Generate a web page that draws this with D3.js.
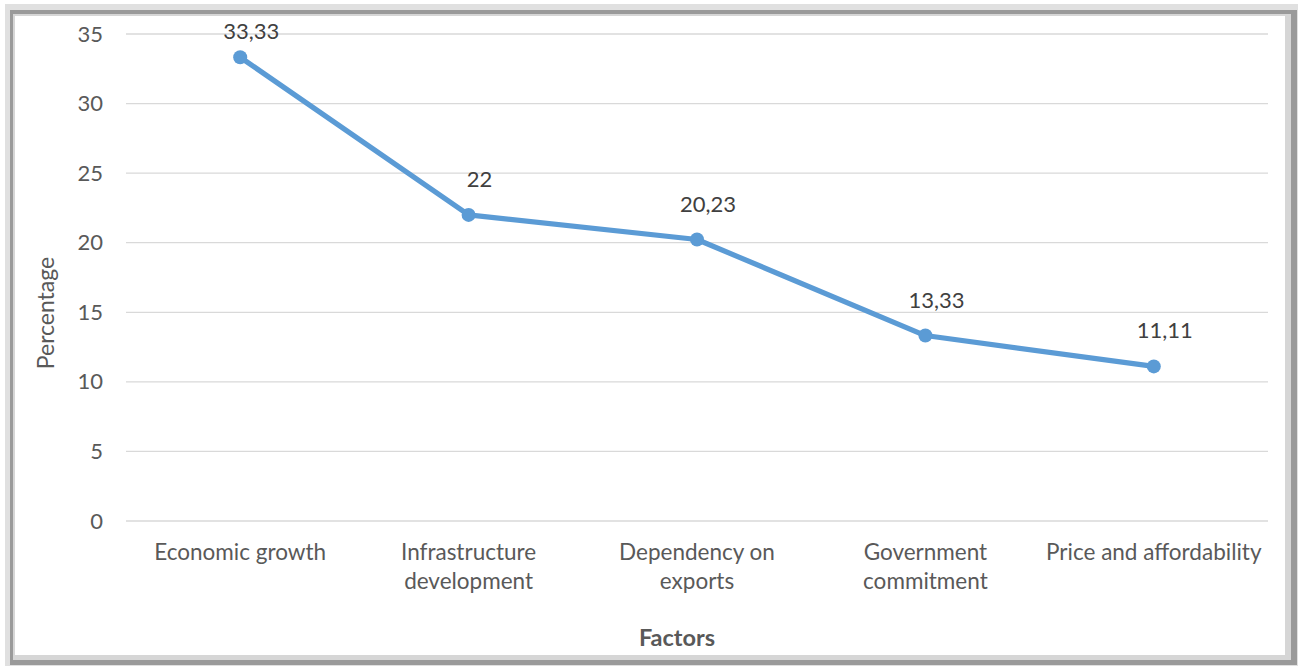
<!DOCTYPE html>
<html>
<head>
<meta charset="utf-8">
<script src="https://cdn.jsdelivr.net/npm/d3@7"></script>
<style>
  html, body { margin: 0; padding: 0; background: #fff; }
  svg { display: block; }
  text { font-family: Lato, "Open Sans", sans-serif; }
</style>
</head>
<body>
<svg id="chart" width="1303" height="666"></svg>
<script>
// Factors and their share (%)
const factors = [
  ["Economic growth"],
  ["Infrastructure", "development"],
  ["Dependency on", "exports"],
  ["Government", "commitment"],
  ["Price and affordability"]
];
const factorKeys = factors.map(f => f.join(" "));
const percentages = [33.33, 22, 20.23, 13.33, 11.11];
const valueLabels = ["33,33", "22", "20,23", "13,33", "11,11"];
const yTicks = [0, 5, 10, 15, 20, 25, 30, 35];

const svg = d3.select("#chart");

// beveled frame
svg.append("rect").attr("x", 5).attr("y", 4).attr("width", 1293).attr("height", 662).attr("fill", "#e0e0e0");
svg.append("rect").attr("x", 10).attr("y", 10).attr("width", 1287).attr("height", 655).attr("fill", "#9a9a9a");
svg.append("rect").attr("x", 13).attr("y", 14).attr("width", 1278).attr("height", 646).attr("fill", "#d6d6d6");
svg.append("rect").attr("x", 15).attr("y", 16).attr("width", 1270).attr("height", 639).attr("fill", "#ffffff");

const plot = { left: 126, right: 1268, top: 34, bottom: 521 };

const x = d3.scaleBand().domain(factorKeys).range([plot.left, plot.right]);
const y = d3.scaleLinear().domain([0, 35]).range([plot.bottom, plot.top]);

// horizontal gridlines
svg.append("g")
  .selectAll("line")
  .data(yTicks)
  .join("line")
  .attr("x1", plot.left).attr("x2", plot.right)
  .attr("y1", d => y(d)).attr("y2", d => y(d))
  .attr("stroke", "#d9d9d9").attr("stroke-width", 1.3);

// y axis labels
const yAxis = d3.axisLeft(y).tickValues(yTicks).tickSize(0).tickPadding(0);
const gy = svg.append("g").attr("transform", `translate(${plot.left - 23},0)`).call(yAxis);
gy.select(".domain").remove();
gy.selectAll("text")
  .attr("fill", "#595959")
  .style("font-size", "22px")
  .style("font-family", "Lato, sans-serif");

// x axis category labels
const gx = svg.append("g");
factors.forEach((lines, i) => {
  const t = gx.append("text")
    .attr("x", x(factorKeys[i]) + x.bandwidth() / 2)
    .attr("y", 560)
    .attr("text-anchor", "middle")
    .attr("fill", "#595959")
    .style("font-size", "22.5px");
  lines.forEach((ln, j) => {
    t.append("tspan")
      .attr("x", x(factorKeys[i]) + x.bandwidth() / 2)
      .attr("dy", j === 0 ? 0 : 29)
      .text(ln);
  });
});

// axis titles
svg.append("text")
  .attr("transform", `translate(54,${313}) rotate(-90)`)
  .attr("text-anchor", "middle")
  .attr("fill", "#595959")
  .style("font-size", "23px")
  .text("Percentage");

svg.append("text")
  .attr("x", 677).attr("y", 646)
  .attr("text-anchor", "middle")
  .attr("fill", "#595959")
  .style("font-size", "23.5px")
  .style("font-weight", "bold")
  .text("Factors");

// series line
const cx = (d, i) => x(factorKeys[i]) + x.bandwidth() / 2;
const line = d3.line().x((d, i) => cx(d, i)).y(d => y(d));
svg.append("path")
  .datum(percentages)
  .attr("d", line)
  .attr("fill", "none")
  .attr("stroke", "#5b9bd5")
  .attr("stroke-width", 5.2)
  .attr("stroke-linejoin", "round");

svg.append("g")
  .selectAll("circle")
  .data(percentages)
  .join("circle")
  .attr("cx", cx)
  .attr("cy", d => y(d))
  .attr("r", 7)
  .attr("fill", "#5b9bd5");

// value labels
svg.append("g")
  .selectAll("text")
  .data(percentages)
  .join("text")
  .attr("x", (d, i) => cx(d, i) + 11)
  .attr("y", d => Math.max(y(d) - 28, 39))
  .attr("text-anchor", "middle")
  .attr("fill", "#404040")
  .style("font-size", "22px")
  .text((d, i) => valueLabels[i]);
</script>
</body>
</html>
